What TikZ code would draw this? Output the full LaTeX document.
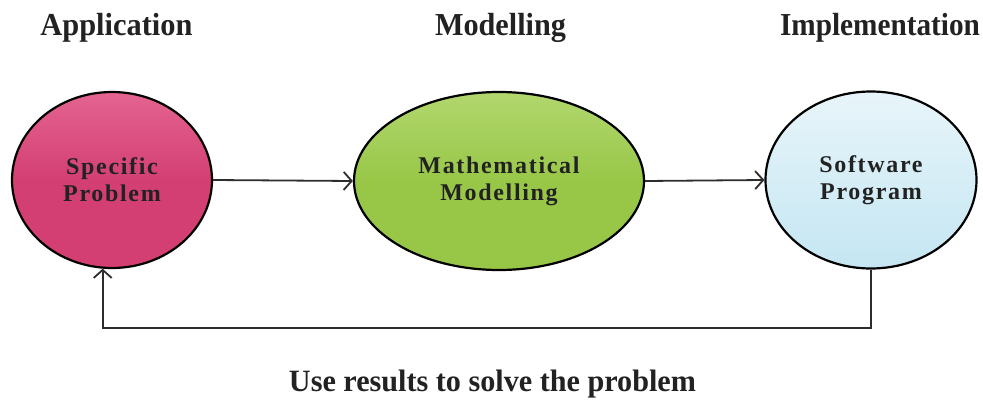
\documentclass[tikz,border=0pt]{standalone}
\usepackage{fontspec}
\setmainfont{Liberation Serif}
\usetikzlibrary{shapes.geometric,arrows.meta}
\definecolor{pinkfill}{RGB}{212,63,115}
\definecolor{pinktop}{RGB}{228,100,145}
\definecolor{greenfill}{RGB}{152,199,72}
\definecolor{greentop}{RGB}{178,215,110}
\definecolor{bluefill}{RGB}{196,230,242}
\definecolor{bluetop}{RGB}{232,245,250}
\definecolor{inkc}{RGB}{34,34,34}
\definecolor{linec}{RGB}{45,45,45}
\tikzset{
  bubble/.style={ellipse, draw=black, line width=2.2pt, inner sep=0pt,
    align=center, text=inkc, font=\rmfamily\bfseries\fontsize{24}{27}\selectfont\addfontfeature{LetterSpace=7}},
  heading/.style={text=inkc, font=\rmfamily\bfseries\fontsize{32}{34}\selectfont, inner sep=0pt},
  conn/.style={draw=linec, line width=1.8pt, -{Straight Barb[length=8pt,width=18pt,line width=1.8pt]}}
}
\begin{document}
\begin{tikzpicture}[x=1pt,y=1pt]
\useasboundingbox (0,0) rectangle (983,400);
\node[bubble, top color=pinktop, bottom color=pinkfill, middle color=pinkfill,
  minimum width=200pt, minimum height=176pt] (spec) at (112,220) {Specific\\Problem};
\node[bubble, top color=greentop, bottom color=greenfill, middle color=greenfill,
  minimum width=290pt, minimum height=178pt] (math) at (499,219) {Mathematical\\Modelling};
\node[bubble, top color=bluetop, bottom color=bluefill,
  minimum width=211pt, minimum height=177pt] (soft) at (871,220) {Software\\Program};
\node[heading] (happ) at (116.5,372) {\resizebox{152pt}{\height}{Application}};
\node[heading] (hmod) at (500.5,372) {\resizebox{131pt}{\height}{Modelling}};
\node[heading] (himp) at (880,372) {\resizebox{200pt}{\height}{Implementation}};
\node[heading, font=\rmfamily\bfseries\fontsize{31}{33}\selectfont] (use) at (492.5,16) {\resizebox{407pt}{\height}{Use results to solve the problem}};
\coordinate (fb) at (871,72);
\draw[conn] (spec.east) -- (math.west);
\draw[conn] (math.east) -- (soft.west);
\draw[conn] (soft.south) -- (fb) -| (spec.264);
\end{tikzpicture}
\end{document}
